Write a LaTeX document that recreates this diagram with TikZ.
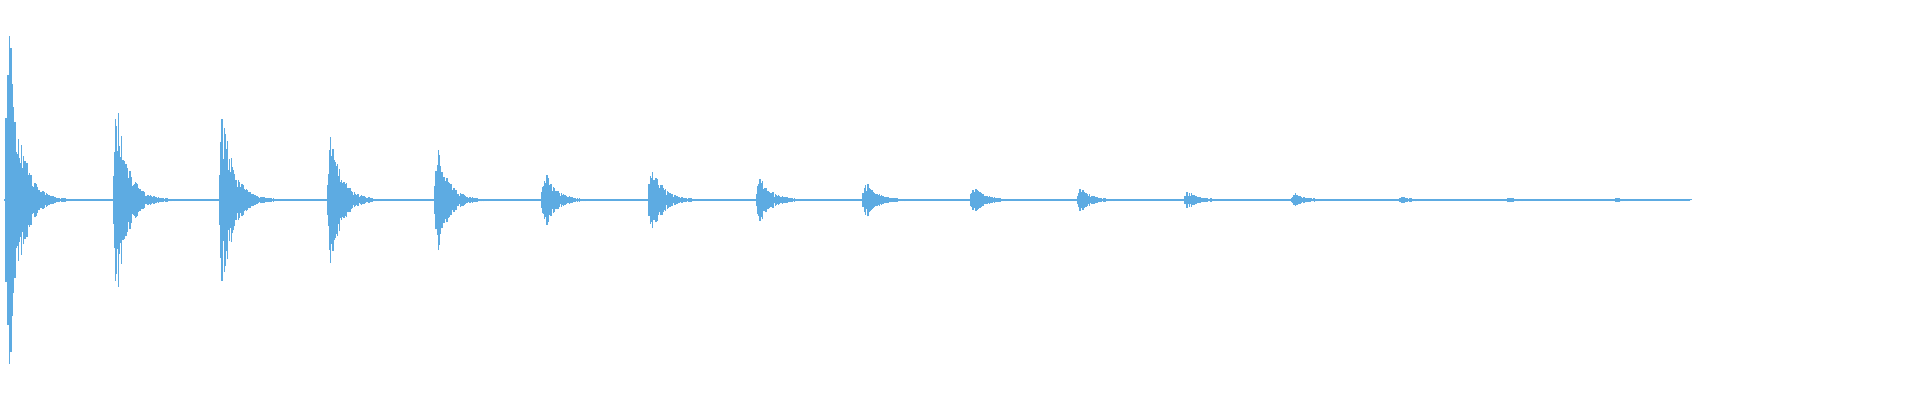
\documentclass[tikz,border=0pt]{standalone}
\definecolor{wave}{RGB}{93,171,226}
\tikzset{sample/.style={wave, line width=0.35pt}}
\begin{document}
\begin{tikzpicture}[x=0.01cm, y=0.01cm]
  \useasboundingbox (0,0) rectangle (1920,400);
  \pgfmathsetseed{7}
  % baseline
  \draw[sample, line width=0.3pt] (4,200) -- (1690,200);
  % decaying bursts
  \foreach \xs/\amp in {6/175, 114/98, 220/88, 328/64, 435/50, 542/28, 649/35, 757/23,
                        863/19, 971/13, 1078/11, 1185/8, 1292/6, 1400/3, 1506/2, 1614/1.5}
  {
    \foreach \k in {0,...,110}
    {
      \pgfmathsetmacro\h{\amp*(0.45+0.55*rnd)*min(1,0.5+\k/6)*exp(-max(0,\k-5)/16)+0.5}
      \draw[sample] (\xs+\k*0.7, 200-\h) -- (\xs+\k*0.7, 200+\h);
    }
  }
\end{tikzpicture}
\end{document}
